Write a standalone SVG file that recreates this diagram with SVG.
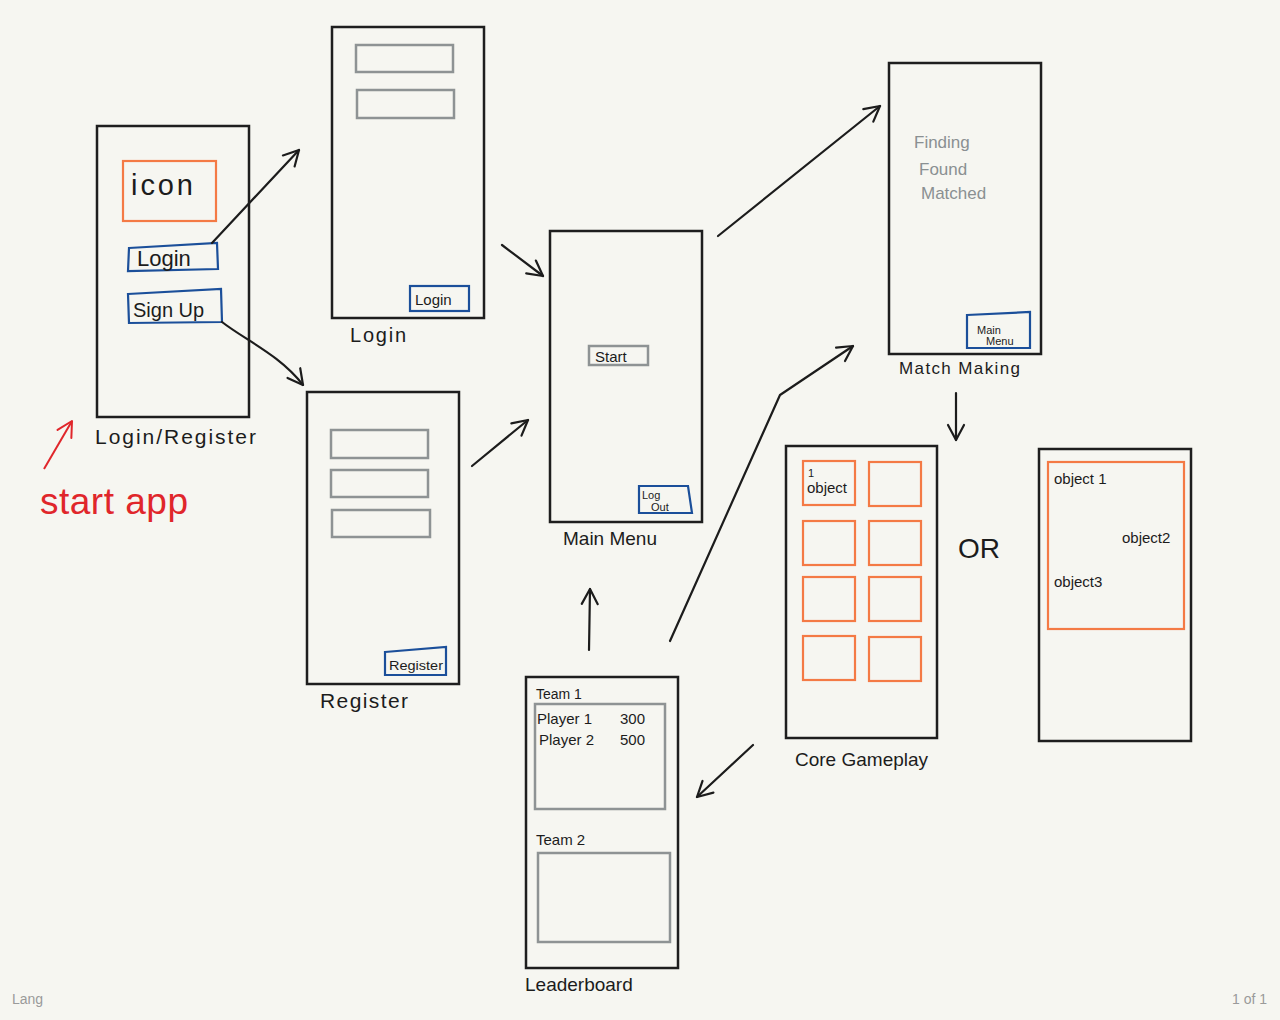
<svg xmlns="http://www.w3.org/2000/svg" width="1280" height="1020" viewBox="0 0 1280 1020">
<defs>
<marker id="ah" viewBox="0 0 20 20" refX="18" refY="10" markerWidth="20" markerHeight="20" markerUnits="userSpaceOnUse" orient="auto">
<path d="M3,2 L18,10 L3,18" fill="none" stroke="#1c1c1c" stroke-width="2.2" stroke-linecap="round" stroke-linejoin="round"/>
</marker>
<marker id="ahr" viewBox="0 0 20 20" refX="18" refY="10" markerWidth="20" markerHeight="20" markerUnits="userSpaceOnUse" orient="auto">
<path d="M3,2 L18,10 L3,18" fill="none" stroke="#e0262b" stroke-width="2" stroke-linecap="round" stroke-linejoin="round"/>
</marker>
</defs>
<style>
.scr{fill:none;stroke:#1e1e1e;stroke-width:2.5}
.org{fill:none;stroke:#f47a45;stroke-width:2.2}
.blu{fill:none;stroke:#1b4f9a;stroke-width:2.2}
.gry{fill:none;stroke:#8e9394;stroke-width:2.5}
.lbl{font-family:"Liberation Sans",Arial,sans-serif;fill:#1c1c1c;font-size:19px}
.sm{font-family:"Liberation Sans",Arial,sans-serif;fill:#1c1c1c;font-size:15px}
.xs{font-family:"Liberation Sans",Arial,sans-serif;fill:#1c1c1c;font-size:11px}
.gt{font-family:"Liberation Sans",Arial,sans-serif;fill:#8a9092;font-size:17px}
.con{fill:none;stroke:#1c1c1c;stroke-width:2.2;stroke-linecap:round;stroke-linejoin:round}
</style>
<rect x="0" y="0" width="1280" height="1020" fill="#f6f6f1"/>

<g id="start-app">
<line x1="44" y1="469" x2="72" y2="421" stroke="#e0262b" stroke-width="2" marker-end="url(#ahr)"/>
<text x="40" y="514" font-family="Liberation Sans, Arial, sans-serif" font-size="37" fill="#e0262b" textLength="148" lengthAdjust="spacing">start app</text>
</g>

<g id="login-register">
<rect class="scr" x="97" y="126" width="152" height="291"/>
<rect class="org" x="123" y="161" width="93" height="60"/>
<text x="131" y="195" font-family="Liberation Sans, Arial, sans-serif" font-size="29" fill="#1c1c1c" textLength="62" lengthAdjust="spacing">icon</text>
<path class="blu" d="M129,248 L217,243 L218,269 L128,271 Z"/>
<text class="lbl" x="137" y="266" style="font-size:22px">Login</text>
<path class="blu" d="M128,294 L221,289 L222,322 L129,323 Z"/>
<text class="lbl" x="133" y="317" style="font-size:20px">Sign Up</text>
<text class="lbl" x="95" y="444" style="font-size:21px" textLength="161" lengthAdjust="spacing">Login/Register</text>
</g>

<g id="login">
<rect class="scr" x="332" y="27" width="152" height="291"/>
<rect class="gry" x="356" y="45" width="97" height="27"/>
<rect class="gry" x="357" y="90" width="97" height="28"/>
<rect class="blu" x="410" y="286" width="59" height="25"/>
<text class="sm" x="415" y="305">Login</text>
<text class="lbl" x="350" y="342" style="font-size:20px" textLength="56" lengthAdjust="spacing">Login</text>
</g>

<g id="register">
<rect class="scr" x="307" y="392" width="152" height="292"/>
<rect class="gry" x="331" y="430" width="97" height="28"/>
<rect class="gry" x="331" y="470" width="97" height="27"/>
<rect class="gry" x="332" y="510" width="98" height="27"/>
<path class="blu" d="M385,652 L446,647 L446,675 L385,675 Z"/>
<text class="sm" x="389" y="670" style="font-size:13px" textLength="54" lengthAdjust="spacingAndGlyphs">Register</text>
<text class="lbl" x="320" y="708" style="font-size:21px" textLength="88" lengthAdjust="spacing">Register</text>
</g>

<g id="main-menu">
<rect class="scr" x="550" y="231" width="152" height="291"/>
<rect class="gry" x="589" y="346" width="59" height="19"/>
<text class="sm" x="595" y="362">Start</text>
<path class="blu" d="M639,486 L688,486 L692,513 L639,513 Z"/>
<text class="xs" x="642" y="499">Log</text>
<text class="xs" x="651" y="511">Out</text>
<text class="lbl" x="563" y="545">Main Menu</text>
</g>

<g id="match-making">
<rect class="scr" x="889" y="63" width="152" height="291"/>
<text class="gt" x="914" y="148">Finding</text>
<text class="gt" x="919" y="175">Found</text>
<text class="gt" x="921" y="199">Matched</text>
<path class="blu" d="M967,315 L1030,312 L1030,348 L967,348 Z"/>
<text class="xs" x="977" y="334">Main</text>
<text class="xs" x="986" y="345">Menu</text>
<text class="sm" x="899" y="374" style="font-size:17px" textLength="121" lengthAdjust="spacing">Match Making</text>
</g>

<g id="core-gameplay">
<rect class="scr" x="786" y="446" width="151" height="292"/>
<rect class="org" x="803" y="461" width="52" height="44"/>
<rect class="org" x="869" y="462" width="52" height="44"/>
<rect class="org" x="803" y="521" width="52" height="44"/>
<rect class="org" x="869" y="521" width="52" height="44"/>
<rect class="org" x="803" y="577" width="52" height="44"/>
<rect class="org" x="869" y="577" width="52" height="44"/>
<rect class="org" x="803" y="636" width="52" height="44"/>
<rect class="org" x="869" y="637" width="52" height="44"/>
<text class="xs" x="808" y="477">1</text>
<text class="sm" x="807" y="493">object</text>
<text class="lbl" x="795" y="766">Core Gameplay</text>
</g>

<g id="or">
<text x="958" y="558" font-family="Liberation Sans, Arial, sans-serif" font-size="28" fill="#1c1c1c">OR</text>
</g>

<g id="alt-gameplay">
<rect class="scr" x="1039" y="449" width="152" height="292"/>
<rect class="org" x="1048" y="462" width="136" height="167"/>
<text class="sm" x="1054" y="484">object 1</text>
<text class="sm" x="1122" y="543">object2</text>
<text class="sm" x="1054" y="587">object3</text>
</g>

<g id="leaderboard">
<rect class="scr" x="526" y="677" width="152" height="291"/>
<text class="sm" x="536" y="699" style="font-size:14px">Team 1</text>
<rect class="gry" x="535" y="704" width="130" height="105"/>
<text class="sm" x="537" y="724">Player 1</text>
<text class="sm" x="620" y="724">300</text>
<text class="sm" x="539" y="745">Player 2</text>
<text class="sm" x="620" y="745">500</text>
<text class="sm" x="536" y="845">Team 2</text>
<rect class="gry" x="538" y="853" width="132" height="89"/>
<text class="lbl" x="525" y="991">Leaderboard</text>
</g>

<g id="connectors">
<path class="con" d="M212,243 L299,150" marker-end="url(#ah)"/>
<path class="con" d="M222,322 C245,340 280,355 303,385" marker-end="url(#ah)"/>
<path class="con" d="M502,245 L543,276" marker-end="url(#ah)"/>
<path class="con" d="M472,466 L528,420" marker-end="url(#ah)"/>
<path class="con" d="M718,236 L880,106" marker-end="url(#ah)"/>
<path class="con" d="M670,641 L780,395 L853,346" marker-end="url(#ah)"/>
<path class="con" d="M589,650 L590,589" marker-end="url(#ah)"/>
<path class="con" d="M956,393 L956,440" marker-end="url(#ah)"/>
<path class="con" d="M753,745 L697,797" marker-end="url(#ah)"/>
</g>

<g id="footer">
<text x="12" y="1004" font-family="Liberation Sans, Arial, sans-serif" font-size="14" fill="#9a9a9a">Lang</text>
<text x="1267" y="1004" text-anchor="end" font-family="Liberation Sans, Arial, sans-serif" font-size="14" fill="#9a9a9a">1 of 1</text>
</g>
</svg>
